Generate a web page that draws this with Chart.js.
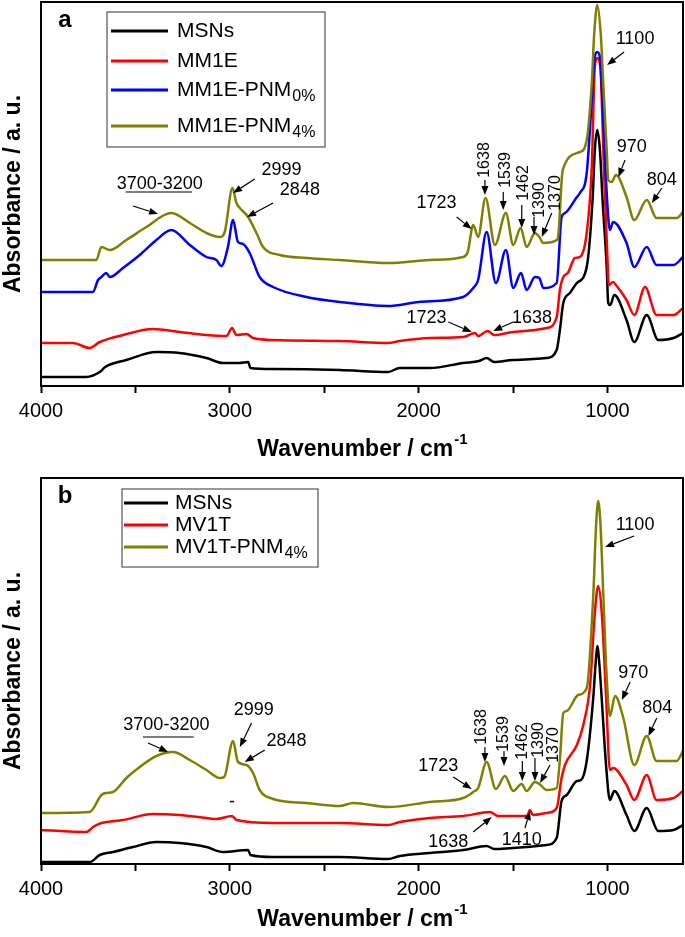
<!DOCTYPE html>
<html>
<head>
<meta charset="utf-8">
<script src="https://cdn.jsdelivr.net/npm/chart.js@4.4.1/dist/chart.umd.min.js"></script>
<style>
  body { margin: 0; background: #fff; }
  #wrap { position: relative; width: 685px; height: 937px; }
  canvas { position: absolute; left: 0; }
  #chartA { top: 0; }
  #chartB { top: 470px; }
</style>
</head>
<body>
<div id="wrap">
  <canvas id="chartA" width="685" height="470"></canvas>
  <canvas id="chartB" width="685" height="467"></canvas>
</div>
<script>
// x axis (wavenumber, cm-1)
const xTicks = [4000, 3500, 3000, 2500, 2000, 1500, 1000];
const xLabels = [4000, 3000, 2000, 1000];
const xTitle = ['Wavenumber / cm', '-1'];
const yTitle = 'Absorbance / a. u.';

// ---- panel a ----
const msnsA_wn = [4000, 3760, 3689, 3660, 3548, 3389, 3266, 3124, 3036, 2950, 2903, 2891, 2771, 2418, 2162, 2100, 1941, 1764, 1680, 1640, 1600, 1500, 1322, 1269, 1252, 1234, 1199, 1162, 1110, 1079, 1067, 1054, 1040, 1026, 1004, 996, 985, 964, 899, 858, 792, 731, 650, 600];
const msnsA_abs = [9, 9, 14, 19, 26, 34, 33, 28, 23, 23, 24, 18, 17, 16, 14, 18, 18, 23, 25, 28, 24, 26, 28, 36, 56, 83, 93, 103, 119, 186, 236, 256, 236, 186, 119, 83, 81, 91, 66, 44, 71, 46, 48, 53];

const mm1e_wn = [4000, 3831, 3742, 3689, 3566, 3407, 3266, 3124, 3018, 2988, 2965, 2912, 2877, 2771, 2418, 2162, 2100, 1941, 1764, 1702, 1685, 1635, 1600, 1500, 1322, 1269, 1252, 1234, 1210, 1172, 1146, 1110, 1083, 1067, 1054, 1038, 1019, 1002, 993, 970, 955, 899, 858, 801, 740, 650, 600];
const mm1e_abs = [43, 43, 38, 44, 51, 57, 54, 51, 50, 58, 51, 52, 48, 46, 45, 43, 45, 48, 49, 53, 50, 55, 51, 54, 58, 69, 96, 109, 113, 128, 129, 153, 219, 319, 328, 319, 219, 136, 101, 104, 101, 86, 71, 99, 71, 71, 78];

const pnm0_wn = [4000, 3725, 3698, 3680, 3654, 3636, 3566, 3477, 3389, 3310, 3212, 3124, 3071, 3045, 3010, 2983, 2957, 2930, 2895, 2842, 2771, 2594, 2418, 2162, 2000, 1764, 1711, 1685, 1640, 1591, 1538, 1499, 1458, 1428, 1384, 1361, 1340, 1269, 1243, 1225, 1162, 1146, 1110, 1083, 1067, 1054, 1040, 1023, 1002, 987, 970, 899, 858, 792, 740, 650, 600];
const pnm0_abs = [94, 94, 106, 109, 113, 109, 118, 131, 146, 156, 141, 129, 126, 120, 139, 166, 144, 142, 133, 109, 99, 89, 84, 80, 84, 89, 98, 106, 154, 103, 136, 98, 113, 96, 109, 108, 98, 103, 169, 173, 189, 193, 213, 286, 329, 334, 329, 269, 186, 156, 164, 143, 119, 139, 121, 121, 129];

const pnm4A_wn = [4000, 3707, 3680, 3636, 3548, 3442, 3310, 3212, 3124, 3053, 3027, 2986, 2965, 2947, 2903, 2859, 2824, 2735, 2594, 2418, 2162, 1941, 1764, 1740, 1711, 1685, 1646, 1596, 1538, 1499, 1460, 1428, 1384, 1361, 1340, 1269, 1260, 1237, 1146, 1110, 1083, 1070, 1054, 1036, 1018, 1004, 996, 978, 955, 899, 858, 792, 740, 633, 600];
const pnm4A_abs = [126, 126, 139, 136, 146, 159, 173, 163, 153, 149, 154, 198, 183, 178, 169, 153, 139, 131, 128, 126, 123, 126, 129, 134, 161, 149, 188, 141, 173, 141, 158, 139, 153, 149, 143, 146, 151, 216, 234, 246, 303, 353, 381, 353, 286, 236, 206, 204, 211, 189, 166, 186, 168, 168, 174];

// ---- panel b ----
const msnsB_wn = [4000, 3742, 3689, 3619, 3513, 3389, 3266, 3124, 3036, 2903, 2891, 2771, 2418, 2162, 2100, 1941, 1764, 1640, 1600, 1500, 1322, 1269, 1243, 1216, 1162, 1140, 1110, 1075, 1063, 1054, 1043, 1031, 1008, 987, 964, 899, 858, 792, 731, 650, 600];
const msnsB_abs = [2, 2, 9, 12, 17, 22, 21, 17, 12, 14, 9, 7, 7, 5, 8, 11, 14, 18, 15, 16, 19, 26, 63, 69, 83, 84, 103, 167, 200, 218, 200, 167, 100, 64, 73, 49, 33, 56, 33, 34, 39];

const mv1t_wn = [4000, 3760, 3725, 3680, 3566, 3407, 3266, 3124, 3071, 2988, 2965, 2771, 2418, 2162, 2100, 1941, 1764, 1622, 1580, 1500, 1425, 1411, 1395, 1322, 1269, 1243, 1225, 1162, 1128, 1092, 1066, 1049, 1031, 1008, 987, 970, 899, 858, 792, 740, 650, 600];
const mv1t_abs = [34, 32, 37, 41, 44, 50, 49, 46, 45, 48, 44, 41, 41, 39, 42, 46, 48, 52, 48, 48, 48, 54, 49, 51, 56, 86, 99, 119, 139, 179, 253, 278, 253, 170, 94, 96, 79, 64, 89, 64, 66, 73];

const pnm4B_wn = [4000, 3742, 3680, 3654, 3619, 3548, 3477, 3389, 3301, 3212, 3124, 3053, 3030, 2983, 2957, 2912, 2877, 2842, 2771, 2594, 2418, 2347, 2162, 1941, 1764, 1711, 1685, 1640, 1591, 1543, 1499, 1455, 1428, 1384, 1361, 1322, 1269, 1252, 1234, 1216, 1155, 1110, 1075, 1061, 1049, 1036, 1022, 1004, 987, 960, 916, 858, 792, 740, 633, 600];
const pnm4B_abs = [51, 52, 69, 71, 72, 86, 97, 108, 112, 104, 94, 86, 87, 123, 102, 99, 91, 74, 65, 61, 58, 61, 57, 62, 66, 72, 76, 102, 75, 88, 73, 80, 73, 82, 80, 74, 76, 104, 151, 153, 169, 176, 269, 336, 363, 336, 269, 186, 148, 168, 146, 99, 128, 103, 103, 113];

// peak labels: text centre and arrow [wavenumber, absorbance]
const notesA = [
  { t: '1100', at: [854, 347], from: [912, 334], to: [1002, 321] },
  { t: '970', at: [871, 239], from: [907, 226], to: [942, 209] },
  { t: '804', at: [712, 206], from: [712, 198], to: [765, 183] },
  { t: '1638', up: true, at: [1649, 226], from: [1649, 206], to: [1649, 191] },
  { t: '1539', up: true, at: [1538, 216], from: [1552, 194], to: [1552, 176] },
  { t: '1462', up: true, at: [1446, 203], from: [1454, 181], to: [1454, 158] },
  { t: '1390', up: true, at: [1357, 186], from: [1389, 169], to: [1389, 151] },
  { t: '1370', up: true, at: [1273, 193], from: [1295, 173], to: [1348, 149] },
  { t: '1723', at: [1905, 183], from: [1799, 169], to: [1719, 157] },
  { t: '1723', at: [1958, 68], from: [1843, 64], to: [1719, 54] },
  { t: '1638', at: [1400, 68], from: [1499, 64], to: [1605, 55] },
  { t: '3700-3200', at: [3371, 202], from: [3513, 180], to: [3380, 172] },
  { t: '2999', at: [2726, 216], from: [2868, 207], to: [2983, 193] },
  { t: '2848', at: [2629, 196], from: [2771, 183], to: [2909, 169] }
];
const rangeA = [[3552, 194], [3200, 194]];

const notesB = [
  { t: '1100', at: [854, 339], from: [859, 328], to: [1013, 317] },
  { t: '970', at: [863, 191], from: [880, 182], to: [924, 164] },
  { t: '804', at: [736, 156], from: [739, 146], to: [783, 128] },
  { t: '1638', up: true, at: [1666, 137], from: [1649, 117], to: [1649, 102] },
  { t: '1539', up: true, at: [1548, 130], from: [1548, 113], to: [1548, 98] },
  { t: '1462', up: true, at: [1450, 122], from: [1451, 103], to: [1451, 83] },
  { t: '1390', up: true, at: [1363, 124], from: [1384, 106], to: [1384, 83] },
  { t: '1370', up: true, at: [1283, 119], from: [1304, 99], to: [1357, 81] },
  { t: '1723', at: [1896, 98], from: [1817, 87], to: [1719, 75] },
  { t: '1638', at: [1843, 22], from: [1711, 32], to: [1613, 47] },
  { t: '1410', at: [1454, 24], from: [1437, 36], to: [1410, 53] },
  { t: '3700-3200', at: [3336, 139], from: [3433, 121], to: [3327, 112] },
  { t: '2999', at: [2873, 154], from: [2885, 141], to: [2947, 117] },
  { t: '2848', at: [2700, 123], from: [2815, 114], to: [2921, 102] },
  { t: '-', at: [2988, 62] }
];
const rangeB = [[3460, 127], [3191, 127]];

const FONT = '"Liberation Sans", Arial, Helvetica, sans-serif';

function drawArrow(ctx, x1, y1, x2, y2) {
  const a = Math.atan2(y2 - y1, x2 - x1);
  const len = 9, half = 3.5;
  const bx = x2 - len * Math.cos(a), by = y2 - len * Math.sin(a);
  ctx.beginPath();
  ctx.moveTo(x1, y1);
  ctx.lineTo(bx, by);
  ctx.stroke();
  ctx.beginPath();
  ctx.moveTo(x2, y2);
  ctx.lineTo(bx + half * Math.sin(a), by - half * Math.cos(a));
  ctx.lineTo(bx - half * Math.sin(a), by + half * Math.cos(a));
  ctx.closePath();
  ctx.fill();
}

const decor = {
  id: 'decor',
  afterDraw(chart, args, o) {
    const { ctx, chartArea: area, scales: { x, y } } = chart;
    const px = p => [x.getPixelForValue(p[0]), y.getPixelForValue(p[1])];
    ctx.save();
    ctx.strokeStyle = '#000';
    ctx.fillStyle = '#000';

    // frame
    ctx.lineWidth = 2;
    ctx.strokeRect(area.left, area.top, area.right - area.left, area.bottom - area.top);

    // axis titles
    ctx.textBaseline = 'middle';
    ctx.textAlign = 'left';
    ctx.font = 'bold 23px ' + FONT;
    const w1 = ctx.measureText(xTitle[0]).width;
    ctx.font = 'bold 15px ' + FONT;
    const w2 = ctx.measureText(xTitle[1]).width;
    const sx = (area.left + area.right) / 2 - (w1 + w2) / 2;
    ctx.font = 'bold 23px ' + FONT;
    ctx.fillText(xTitle[0], sx, o.xTitleY);
    ctx.font = 'bold 15px ' + FONT;
    ctx.fillText(xTitle[1], sx + w1 + 1, o.xTitleY - 10);

    ctx.save();
    ctx.translate(14, (area.top + area.bottom) / 2);
    ctx.rotate(-Math.PI / 2);
    ctx.textAlign = 'center';
    ctx.font = 'bold 23px ' + FONT;
    ctx.fillText(yTitle, 0, 0);
    ctx.restore();

    // panel letter
    ctx.font = 'bold 24px ' + FONT;
    ctx.textAlign = 'center';
    ctx.fillText(o.letter, area.left + 24, area.top + 18);

    // legend
    const lg = o.legend;
    ctx.lineWidth = 1;
    ctx.strokeStyle = '#333';
    ctx.strokeRect(area.left + lg.box[0], area.top + lg.box[1], lg.box[2], lg.box[3]);
    chart.data.datasets.forEach((ds, i) => {
      const ry = area.top + lg.rows[i];
      ctx.strokeStyle = ds.borderColor;
      ctx.lineWidth = 3;
      ctx.beginPath();
      ctx.moveTo(area.left + lg.line[0], ry);
      ctx.lineTo(area.left + lg.line[1], ry);
      ctx.stroke();
      const m = ds.label.match(/^(.*PNM)(.+)$/);
      const base = m ? m[1] : ds.label;
      ctx.fillStyle = '#000';
      ctx.textAlign = 'left';
      ctx.font = '21px ' + FONT;
      ctx.fillText(base, area.left + lg.text, ry);
      if (m) {
        const bw = ctx.measureText(base).width;
        ctx.font = '16px ' + FONT;
        ctx.fillText(m[2], area.left + lg.text + bw + 1, ry + 7);
      }
    });

    // peak labels and arrows
    ctx.strokeStyle = '#000';
    ctx.fillStyle = '#000';
    ctx.lineWidth = 1.2;
    o.notes.forEach(n => {
      const [tx, ty] = px(n.at);
      ctx.save();
      ctx.translate(tx, ty);
      if (n.up) ctx.rotate(-Math.PI / 2);
      ctx.font = (n.up ? 16 : 18) + 'px ' + FONT;
      ctx.textAlign = 'center';
      ctx.textBaseline = 'middle';
      ctx.fillText(n.t, 0, 0);
      ctx.restore();
      if (n.from) {
        const [x1, y1] = px(n.from), [x2, y2] = px(n.to);
        drawArrow(ctx, x1, y1, x2, y2);
      }
    });
    const [ux1, uy1] = px(o.range[0]), [ux2, uy2] = px(o.range[1]);
    ctx.beginPath();
    ctx.moveTo(ux1, uy1);
    ctx.lineTo(ux2, uy2);
    ctx.stroke();
    ctx.restore();
  }
};

function makeChart(id, series, cfg) {
  const n = series.length;
  return new Chart(document.getElementById(id), {
    type: 'line',
    data: {
      datasets: series.map((s, i) => ({
        label: s.label,
        data: s.wn.map((w, k) => ({ x: w, y: s.abs[k] })),
        borderColor: s.color,
        borderWidth: 2.5,
        pointRadius: 0,
        fill: false,
        cubicInterpolationMode: 'monotone',
        order: n - i
      }))
    },
    options: {
      responsive: false,
      animation: false,
      layout: { padding: cfg.padding },
      plugins: {
        legend: { display: false },
        tooltip: { enabled: false },
        decor: cfg.decor
      },
      scales: {
        x: {
          type: 'linear',
          reverse: true,
          min: 600,
          max: 4000,
          afterBuildTicks: sc => { sc.ticks = xTicks.map(v => ({ value: v })); },
          afterFit: sc => { sc.height = cfg.xHeight; },
          ticks: {
            autoSkip: false,
            maxRotation: 0,
            padding: 6,
            color: '#000',
            font: { size: 20, family: FONT },
            callback: v => xLabels.includes(v) ? String(v) : ''
          },
          grid: { drawOnChartArea: false, tickLength: 7, tickColor: '#000', tickWidth: 2 },
          border: { display: true, color: '#000', width: 2 }
        },
        y: { display: false, min: 0, max: cfg.yMax }
      }
    },
    plugins: [decor]
  });
}

makeChart('chartA', [
  { label: 'MSNs', wn: msnsA_wn, abs: msnsA_abs, color: '#000000' },
  { label: 'MM1E', wn: mm1e_wn, abs: mm1e_abs, color: '#ff0000' },
  { label: 'MM1E-PNM0%', wn: pnm0_wn, abs: pnm0_abs, color: '#0000ff' },
  { label: 'MM1E-PNM4%', wn: pnm4A_wn, abs: pnm4A_abs, color: '#808000' }
], {
  padding: { left: 41, right: 2, top: 2, bottom: 0 },
  xHeight: 84,
  yMax: 384,
  decor: {
    letter: 'a',
    xTitleY: 450,
    legend: { box: [66, 10, 218, 135], rows: [29, 59, 88, 124], line: [70, 127], text: 136 },
    notes: notesA,
    range: rangeA
  }
});

makeChart('chartB', [
  { label: 'MSNs', wn: msnsB_wn, abs: msnsB_abs, color: '#000000' },
  { label: 'MV1T', wn: mv1t_wn, abs: mv1t_abs, color: '#ff0000' },
  { label: 'MV1T-PNM4%', wn: pnm4B_wn, abs: pnm4B_abs, color: '#808000' }
], {
  padding: { left: 41, right: 2, top: 8, bottom: 0 },
  xHeight: 73,
  yMax: 386,
  decor: {
    letter: 'b',
    xTitleY: 450,
    legend: { box: [81, 11, 196, 78], rows: [25, 47, 69], line: [83, 127], text: 134 },
    notes: notesB,
    range: rangeB
  }
});
</script>
</body>
</html>
